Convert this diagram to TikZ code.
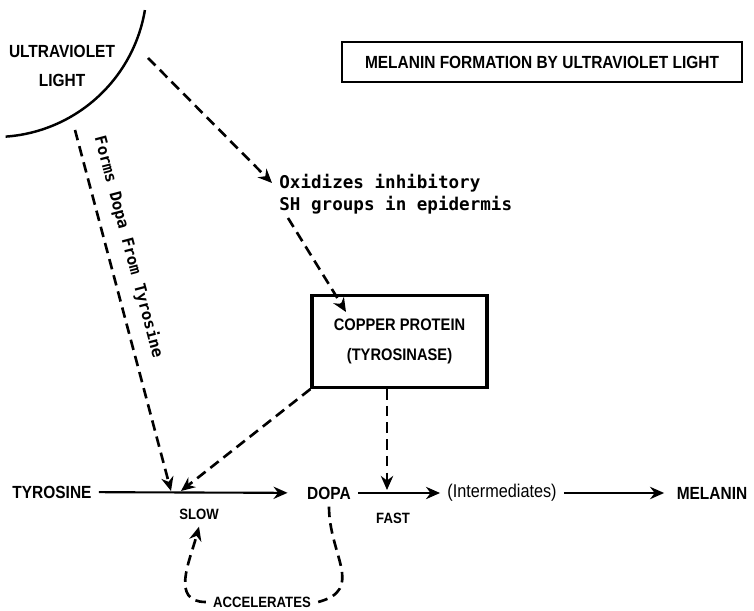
\documentclass[tikz,border=0pt]{standalone}
\usepackage{fontspec}
\usepackage{tikz}
\usetikzlibrary{arrows.meta}
\usetikzlibrary{calc}

\setmainfont{Liberation Sans}
\newfontfamily\capsfont{Liberation Sans}[FakeStretch=0.88]
\newfontfamily\wordfont{DejaVu Sans Mono}

\begin{document}
\begin{tikzpicture}[auto]
        \tikzset{>={Stealth[length=8pt,width=7pt]}}
        \tikzstyle{every node}=[inner sep=4pt,text=black]
        \tikzstyle{caps}=[font=\capsfont\bfseries\fontsize{10}{16}\selectfont,align=center]
        \tikzstyle{smallcaps}=[font=\capsfont\bfseries\fontsize{8.5}{10}\selectfont]
        \tikzstyle{words}=[font=\wordfont\bfseries\fontsize{10}{12.5}\selectfont,align=left]
        \tikzstyle{flow}=[->,line width=1.2pt]
        \tikzstyle{dsh}=[->,line width=1.5pt,dash pattern=on 6pt off 3.5pt]

        \useasboundingbox (0cm,0cm) rectangle (15.08cm,-12.22cm);

        % light source
        \draw [line width=1.4pt] (-0.1cm,0.3cm) ++(-9.5:3.04cm) arc [start angle=-9.5, end angle=-86, radius=3.04cm];
        \node [caps] (uv) at (1.24cm,-1.32cm) {ULTRAVIOLET\\LIGHT};
        \coordinate (uvA) at (2.96cm,-1.16cm);
        \coordinate (uvB) at (1.50cm,-2.60cm);

        \node [caps, draw, line width=1.2pt, minimum width=8cm, minimum height=0.8cm] (title) at (10.84cm,-1.24cm) {MELANIN FORMATION BY ULTRAVIOLET LIGHT};

        \node [words, anchor=west] (oxid) at (5.44cm,-3.88cm) {Oxidizes inhibitory\\SH groups in epidermis};
        \node [caps, font=\capsfont\bfseries\fontsize{9.5}{17}\selectfont, draw, line width=1.8pt, minimum width=3.5cm, minimum height=1.84cm] (copper) at (7.99cm,-6.83cm) {COPPER PROTEIN\\(TYROSINASE)};

        % reaction chain
        \node [caps] (tyr) at (1.04cm,-9.84cm) {TYROSINE};
        \node [caps] (dopa) at (6.58cm,-9.86cm) {DOPA};
        \node [font=\capsfont\fontsize{10.5}{12}\selectfont] (inter) at (10.04cm,-9.86cm) {(Intermediates)};
        \node [caps] (mel) at (14.24cm,-9.86cm) {MELANIN};
        \node [smallcaps] (slow) at (3.98cm,-10.28cm) {SLOW};
        \node [smallcaps] (fast) at (7.86cm,-10.36cm) {FAST};
        \node [smallcaps] (accel) at (5.24cm,-12.04cm) {ACCELERATES};

        \coordinate (hitA) at (3.42cm,-9.82cm);
        \coordinate (hitB) at (3.62cm,-9.82cm);
        \coordinate (hitC) at (7.74cm,-9.80cm);

        \draw [flow, shorten >=7pt] (tyr) -- (dopa);
        \draw [flow] (dopa) -- (inter);
        \draw [flow, shorten >=3pt] (inter) -- (mel);

        \draw [dsh] (uvA) -- (oxid.west |- 0,-3.66cm);
        \draw [dsh] (5.76cm,-4.36cm) -- (6.92cm,-6.24cm);
        \draw [dsh] (uvB) -- node [words, font=\wordfont\bfseries\fontsize{9}{9}\selectfont, sloped, above=3pt, pos=0.34] {Forms Dopa From Tyrosine} (hitA);
        \draw [dsh] (copper.south west) -- (hitB);
        \draw [dsh] (copper.south -| hitC) -- (hitC);
        \draw [dsh, -] (dopa.south) to [out=-90, in=15, looseness=1.3] (accel.east);
        \draw [dsh] (accel.west) to [out=180, in=-105, looseness=1.2] (slow.south);
    \end{tikzpicture}
\end{document}
